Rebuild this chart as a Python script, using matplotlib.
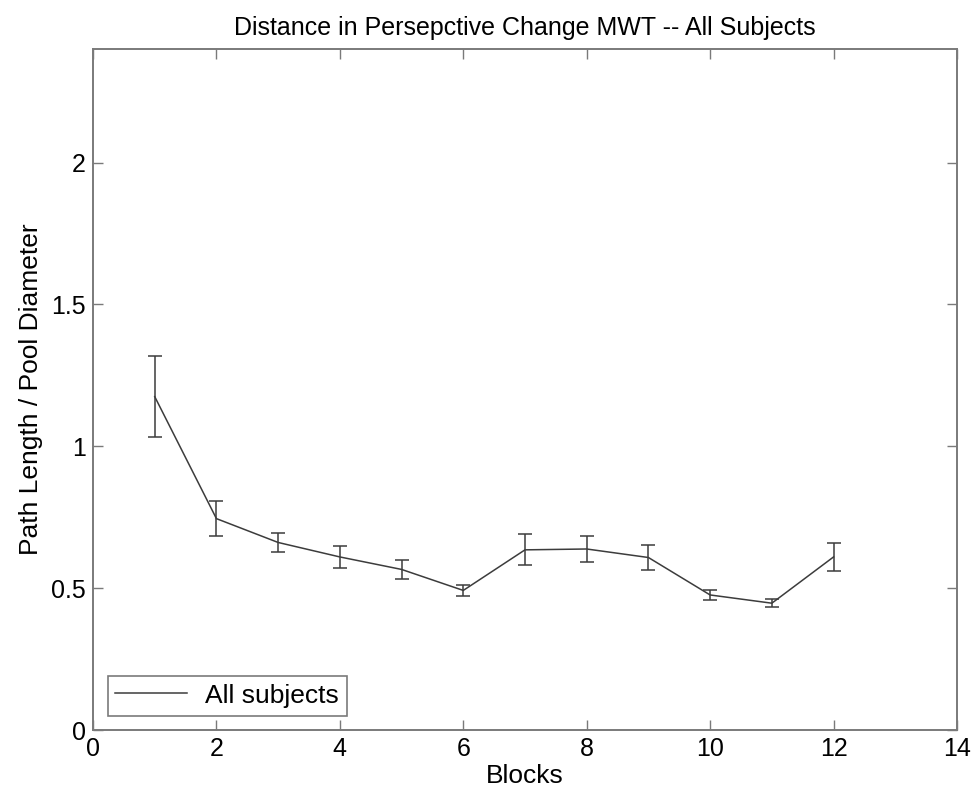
import numpy as np
import matplotlib.pyplot as plt
from matplotlib.lines import Line2D

plt.rcParams['font.family'] = ['Liberation Sans', 'DejaVu Sans']

# data
blocks = [1, 2, 3, 4, 5, 6, 7, 8, 9, 10, 11, 12]
path_ratio = [1.175, 0.745, 0.661, 0.610, 0.566, 0.492, 0.635, 0.638, 0.608, 0.476, 0.447, 0.610]
sem = [0.142, 0.061, 0.035, 0.040, 0.033, 0.019, 0.055, 0.047, 0.045, 0.016, 0.014, 0.048]

line_col = '#3c3c3c'
axis_col = '#7a7a7a'

fig = plt.figure(figsize=(9.77, 8.01), dpi=100)
ax = fig.add_axes([0.0952, 0.0886, 0.8843, 0.8502])

ax.errorbar(blocks, path_ratio, yerr=sem, color=line_col, lw=1.1,
            elinewidth=1.1, capsize=5, capthick=1.1)

ax.set_xlim(0, 14)
ax.set_ylim(0, 2.4)
ax.set_xticks(np.arange(0, 15, 2))
ax.set_yticks([0, 0.5, 1, 1.5, 2])
ax.set_yticklabels(['0', '0.5', '1', '1.5', '2'])

for s in ax.spines.values():
    s.set_color(axis_col)
    s.set_linewidth(1.4)
ax.tick_params(direction='in', top=True, right=True, length=7, width=1,
               color=axis_col, labelsize=18, pad=5)

ax.set_xlabel('Blocks', fontsize=19, labelpad=2)
ax.set_ylabel('Path Length / Pool Diameter', fontsize=19, labelpad=6)
ax.set_title('Distance in Persepctive Change MWT -- All Subjects', fontsize=18, pad=10)

proxy = Line2D([], [], color=line_col, lw=1.1)
leg = ax.legend([proxy], ['All subjects'], loc='lower left', fontsize=19,
                fancybox=False, framealpha=1, borderaxespad=0.55,
                handlelength=2.7, handletextpad=0.7, borderpad=0.3)
leg.get_frame().set_edgecolor(axis_col)
leg.get_frame().set_linewidth(1.2)

fig.savefig('out.png', dpi=100)
